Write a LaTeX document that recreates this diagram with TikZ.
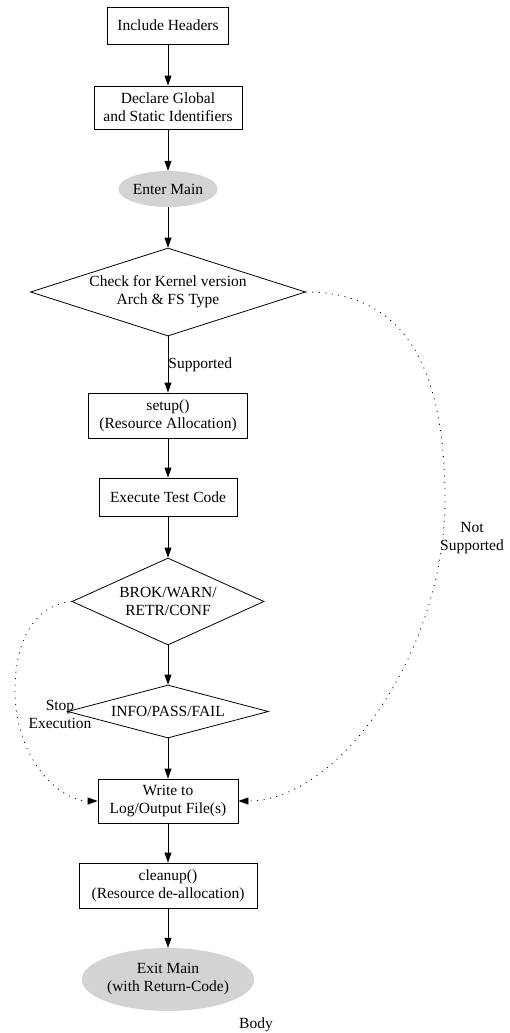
\documentclass[tikz,border=0pt]{standalone}
\usepackage{fontspec}
\setmainfont{Liberation Serif}
\usetikzlibrary{shapes.geometric,arrows.meta}
\definecolor{fillgrey}{HTML}{D3D3D3}

\begin{document}
\begin{tikzpicture}[x=1pt,y=-1pt]
  \tikzstyle{every node}=[font=\fontsize{15.5}{18}\selectfont, align=center]
  \tikzstyle{stepbox}=[draw, line width=0.8pt, inner sep=2pt]
  \tikzstyle{decision}=[diamond, draw, line width=0.8pt, inner sep=0pt, aspect=3]
  \tikzstyle{terminal}=[ellipse, fill=fillgrey, inner sep=0pt]
  \tikzstyle{flow}=[line width=0.8pt, -{Triangle[length=10pt,width=7pt]}]
  \tikzstyle{skip}=[flow, dash pattern=on 1pt off 5.5pt]

  \useasboundingbox (0,0) rectangle (510,1033);

  \path (168,25.5) node[stepbox, minimum width=121pt, minimum height=37pt] (hdr) {Include Headers};
  \path (168,107.5) node[stepbox, minimum width=148pt, minimum height=43pt] (decl) {Declare Global\\and Static Identifiers};
  \path (168,189) node[terminal, minimum width=98pt, minimum height=36pt] (enter) {Enter Main};
  \path (168,292) node[decision, minimum width=275pt, minimum height=88pt] (chk) {Check for Kernel version\\Arch \& FS Type};
  \path (168,415.5) node[stepbox, minimum width=159pt, minimum height=45pt] (setup) {setup()\\(Resource Allocation)};
  \path (168,497) node[stepbox, minimum width=138pt, minimum height=38pt] (exec) {Execute Test Code};
  \path (168,601.5) node[decision, minimum width=192pt, minimum height=87pt] (brok) {BROK/WARN/\\RETR/CONF};
  \path (168,711.5) node[decision, minimum width=201pt, minimum height=53pt] (info) {INFO/PASS/FAIL};
  \path (168,801) node[stepbox, minimum width=140pt, minimum height=44pt] (wr) {Write to\\Log/Output File(s)};
  \path (168,885.5) node[stepbox, minimum width=178pt, minimum height=45pt] (clean) {cleanup()\\(Resource de-allocation)};
  \path (168,979.5) node[terminal, minimum width=162pt, minimum height=63pt] (exit) {Exit Main\\(with Return-Code)};

  \draw[flow] (hdr) -- (decl);
  \draw[flow] (decl) -- (enter);
  \draw[flow] (enter) -- (chk);
  \draw[flow] (chk) -- node[right, inner sep=0pt] (lsup) {Supported} (setup);
  \draw[flow] (setup) -- (exec);
  \draw[flow] (exec) -- (brok);
  \draw[flow] (brok) -- (info);
  \draw[flow] (info) -- (wr);
  \draw[flow] (wr) -- (clean);
  \draw[flow] (clean) -- (exit);

  % side exits into the log box
  \draw[skip] (chk.east) .. controls (400,292) and (445,360) .. (445,500)
    .. controls (445,650) and (340,801) .. (wr.east);
  \draw[skip] (brok.west) .. controls (35,605) and (15,640) .. (15,690)
    .. controls (15,760) and (60,801) .. (wr.west);

  \path (472,538) node (lnot) {Not\\Supported};
  \path (60,714) node (lstop) {Stop\\Execution};
  \path (256,1025) node (lbody) {Body};
\end{tikzpicture}
\end{document}
